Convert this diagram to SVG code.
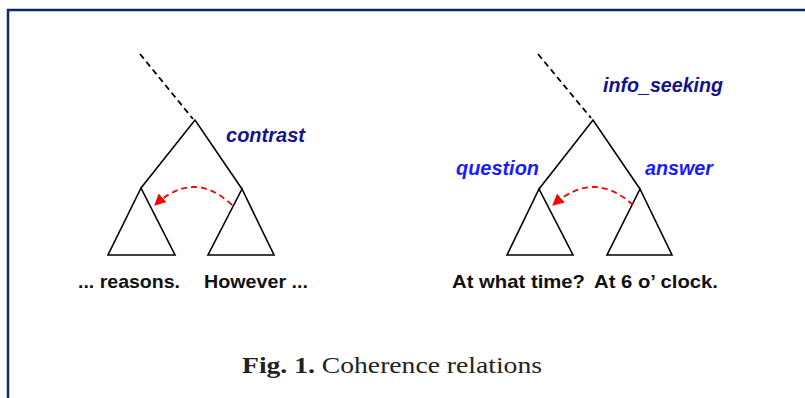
<svg xmlns="http://www.w3.org/2000/svg" width="805" height="398" viewBox="0 0 805 398">
<defs>
<style>
.tree{fill:none;stroke:#000;stroke-width:1.6;stroke-linejoin:miter}
.dash{fill:none;stroke:#000;stroke-width:1.8;stroke-dasharray:6 4}
.arc{fill:none;stroke:#ff0000;stroke-width:1.8;stroke-dasharray:6 4}
.word{font-family:"Liberation Sans",Arial,sans-serif;font-weight:bold;font-size:19px;fill:#111}
.rel{font-family:"Liberation Sans",Arial,sans-serif;font-weight:bold;font-style:italic;font-size:20px}
.dark{fill:#14148c}
.blue{fill:#1a1aff}
.cap{font-family:"Liberation Serif","Times New Roman",serif;font-size:24px;fill:#222}
</style>
<marker id="ah" viewBox="0 0 10 10" refX="9" refY="5" markerWidth="6.5" markerHeight="6.5" orient="auto" markerUnits="strokeWidth">
<path d="M0,0 L10,5 L0,10 z" fill="#ff0000"/>
</marker>
</defs>
<rect x="0" y="0" width="805" height="398" fill="#fff"/>
<path d="M8,398 L8,10 L805,10" fill="none" stroke="#0c2a6a" stroke-width="2.5"/>

<g id="tree-left">
<path class="dash" d="M140,54 L193,119"/>
<path class="tree" d="M141,188 L195,120 L242,189"/>
<path id="left-sub1" class="tree" d="M141,188 L108,255 L175,255 Z"/>
<path id="left-sub2" class="tree" d="M242,189 L208,255 L274,255 Z"/>
<text class="rel dark" x="226" y="142" textLength="79" lengthAdjust="spacingAndGlyphs">contrast</text>
<text class="word" x="78" y="288" textLength="102" lengthAdjust="spacingAndGlyphs">... reasons.</text>
<text class="word" x="204" y="288" textLength="104" lengthAdjust="spacingAndGlyphs">However ...</text>
</g>

<g id="tree-right">
<path class="dash" d="M538,54 L591,118"/>
<path class="tree" d="M539,189 L593,120 L640,189"/>
<path id="right-sub1" class="tree" d="M539,189 L507,255 L573,255 Z"/>
<path id="right-sub2" class="tree" d="M640,189 L607,255 L672,255 Z"/>
<text class="rel dark" x="603" y="92" textLength="120" lengthAdjust="spacingAndGlyphs">info_seeking</text>
<text class="rel blue" x="456" y="175" textLength="83" lengthAdjust="spacingAndGlyphs">question</text>
<text class="rel blue" x="645" y="175" textLength="68" lengthAdjust="spacingAndGlyphs">answer</text>
<text class="word" x="452" y="288" textLength="133" lengthAdjust="spacingAndGlyphs">At what time?</text>
<text class="word" x="594" y="288" textLength="124" lengthAdjust="spacingAndGlyphs">At 6 o’ clock.</text>
</g>

<g id="connectors">
<path class="arc" d="M232,205 Q194,169 155,205" marker-end="url(#ah)"/>
<path class="arc" d="M633,205 Q594,169 553,205" marker-end="url(#ah)"/>
</g>

<text class="cap" x="242" y="373" textLength="300" lengthAdjust="spacingAndGlyphs"><tspan font-weight="bold">Fig. 1.</tspan> Coherence relations</text>
</svg>
